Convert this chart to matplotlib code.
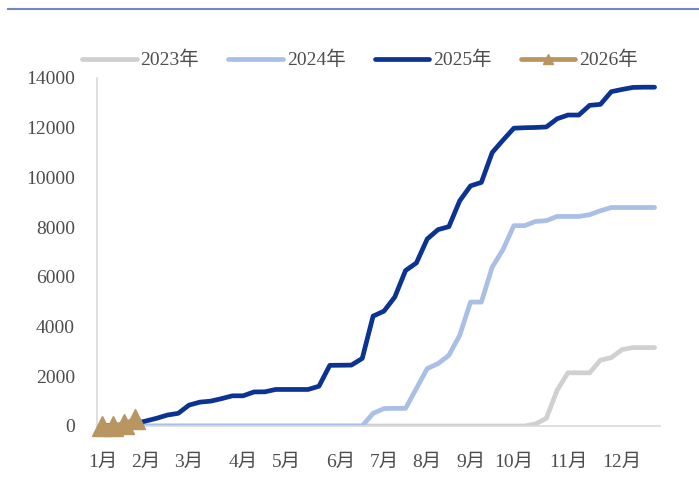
import matplotlib.pyplot as plt
from matplotlib.lines import Line2D

# Font: serif digits, CJK fallback for 年/月
plt.rcParams['font.family'] = ['Liberation Serif', 'Noto Sans CJK SC', 'DejaVu Sans']

# Data (weekly, 52 weeks)
months = ['1月', '2月', '3月', '4月', '5月', '6月', '7月', '8月', '9月', '10月', '11月', '12月']
month_weeks = [0, 4, 8, 13, 17, 22, 26, 30, 34, 38, 43, 48]

y2023 = [0, 0, 0, 0, 0, 0, 0, 0, 0, 0,
         0, 0, 0, 0, 0, 0, 0, 0, 0, 0,
         0, 0, 0, 0, 0, 0, 0, 0, 0, 0,
         0, 0, 0, 0, 0, 0, 0, 0, 0, 0,
         80, 310, 1440, 2140, 2140, 2140, 2650, 2750, 3075, 3155,
         3155, 3155]
y2024 = [0, 0, 0, 0, 0, 0, 0, 0, 0, 0,
         0, 0, 0, 0, 0, 0, 0, 0, 0, 0,
         0, 0, 0, 0, 0, 510, 700, 710, 710, 1510,
         2310, 2510, 2845, 3650, 4985, 4985, 6390, 7100, 8060, 8060,
         8230, 8260, 8430, 8430, 8430, 8500, 8660, 8790, 8790, 8790,
         8790, 8790]
y2025 = [0, 20, 50, 100, 200, 310, 440, 510, 840, 960,
         1000, 1100, 1215, 1215, 1370, 1375, 1470, 1470, 1470, 1470,
         1600, 2440, 2445, 2450, 2720, 4420, 4620, 5185, 6255, 6560,
         7525, 7900, 8020, 9060, 9660, 9800, 11000, 11500, 11980, 12000,
         12010, 12030, 12360, 12510, 12510, 12900, 12940, 13450, 13540, 13620,
         13630, 13630]
y2026 = [0, 10, 80, 270]

c2023 = '#d0d0d0'
c2024 = '#a9bfe6'
c2025 = '#0b3391'
c2026 = '#b99562'
txt = '#4d4d4d'

fig = plt.figure(figsize=(6.99, 4.93), dpi=100)
ax = fig.add_axes([97 / 699, 67 / 493, 563 / 699, 348 / 493])

ax.plot(range(len(y2023)), y2023, color=c2023, lw=3.4, label='2023年', solid_capstyle='round')
ax.plot(range(len(y2024)), y2024, color=c2024, lw=3.4, label='2024年', solid_capstyle='round')
ax.plot(range(len(y2025)), y2025, color=c2025, lw=3.4, label='2025年', solid_capstyle='round')
ax.plot(range(len(y2026)), y2026, color=c2026, lw=3.4, marker='^', ms=15,
        label='2026年', solid_capstyle='round', clip_on=False, zorder=5)

ax.set_xlim(-0.5, 51.5)
ax.set_ylim(0, 14000)
ax.set_yticks(range(0, 14001, 2000))
ax.set_xticks(month_weeks)
ax.set_xticklabels(months)
ax.tick_params(axis='both', length=0, labelsize=14, colors=txt)
ax.tick_params(axis='x', pad=20)
ax.tick_params(axis='y', pad=16)

for s in ['top', 'right']:
    ax.spines[s].set_visible(False)
ax.spines['left'].set_color('#d9d9d9')
ax.spines['bottom'].set_color('#d9d9d9')
ax.spines['left'].set_linewidth(1.2)
ax.spines['bottom'].set_linewidth(1.2)

leg = fig.legend(loc='center', bbox_to_anchor=(0.515, 0.878), ncol=4, frameon=False,
                 fontsize=14, handlelength=2.8, handletextpad=0.2, columnspacing=1.5,
                 markerscale=0.5)
for t in leg.get_texts():
    t.set_color(txt)

# header rule
fig.add_artist(Line2D([8 / 699, 1], [0.982, 0.982], color='#7088bd', lw=1.5))

plt.savefig('out.png', dpi=100)
